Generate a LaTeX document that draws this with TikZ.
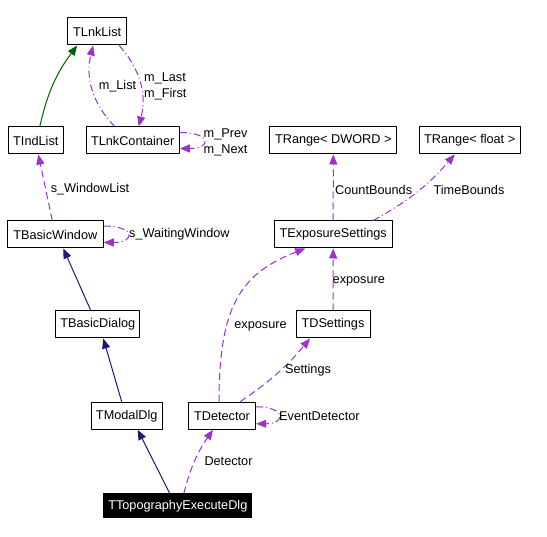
\documentclass[tikz,border=0pt]{standalone}
\usepackage{fontspec}
\setmainfont{Liberation Sans}
\usetikzlibrary{arrows.meta}
\definecolor{usecol}{RGB}{154,50,205}
\definecolor{inhcol}{RGB}{25,25,112}
\definecolor{pubcol}{RGB}{0,100,0}
\tikzset{
  cls/.style={draw,fill=white,line width=1pt,minimum height=27pt,inner sep=0pt,font=\fontsize{12.7}{15}\selectfont},
  lbl/.style={inner sep=0pt,font=\fontsize{12.7}{16}\selectfont,align=left},
  tip/.style={-{Triangle[length=10pt,width=8pt]}},
  usage/.style={tip,usecol,line width=1pt,dash pattern=on 7pt off 4pt},
  usagedot/.style={tip,usecol,line width=1pt,dash pattern=on 7pt off 3pt on 1pt off 3pt},
  inherit/.style={tip,inhcol,line width=1pt},
  pubinherit/.style={tip,pubcol,line width=1pt},
}
\begin{document}
\begin{tikzpicture}[x=1pt,y=-1pt,line join=round]
	\useasboundingbox (0,0) rectangle (547,537);
	% classes
	\foreach \n/\x/\y/\w/\t in {lnklist/97.2/31.5/59/TLnkList,indlist/35.8/140.5/55/TIndList,
		lnkcont/132.7/140.5/93.3/TLnkContainer,rdword/333.3/140.5/126.7/TRange< DWORD >,
		rfloat/469.7/140.5/100.7/TRange< float >,basicwin/55.3/234.5/96/TBasicWindow,
		expos/333.2/234.5/118.3/TExposureSettings,basicdlg/97.8/324.5/84.3/TBasicDialog,
		dsett/333/324.5/74/TDSettings,modal/126.7/415.8/71.3/TModalDlg,detect/222/415.8/67.4/TDetector}
	\node[cls,minimum width=\w pt] (\n) at (\x,\y) {\t};
	\node[cls,fill=black,text=white,minimum width=147.7pt,minimum height=24pt] (topo) at (177.8,506) {TTopographyExecuteDlg};
	% inheritance
	\draw[pubinherit] ([xshift=4pt]indlist.north) to[bend left=12] ([xshift=-20pt]lnklist.south);
	\draw[inherit] ([xshift=-7pt]basicdlg.north) -- ([xshift=8pt]basicwin.south);
	\draw[inherit] ([xshift=-5pt]modal.north) -- ([xshift=5.5pt]basicdlg.south);
	\draw[inherit] ([xshift=-8pt]topo.north) -- ([xshift=11pt]modal.south);
	% usage
	\draw[usagedot] ([xshift=-18pt]lnkcont.north) to[bend left=29] ([xshift=-4pt]lnklist.south);
	\node[lbl] (llist) at (117.5,86) {m\_List};
	\draw[usagedot] ([xshift=22pt]lnklist.south) to[bend left=28] ([xshift=6pt]lnkcont.north);
	\node[lbl,anchor=west] (llast) at (144,86) {m\_Last\\m\_First};
	\draw[usagedot] ([yshift=8pt]lnkcont.east) .. controls +(32,0) and +(32,0) .. ([yshift=-8pt]lnkcont.east);
	\node[lbl,anchor=west] (lprev) at (203.5,142) {m\_Prev\\m\_Next};
	\draw[usage] ([xshift=-3pt]basicwin.north) -- ([xshift=2.5pt]indlist.south);
	\node[lbl] (lwinlist) at (90,189) {s\_WindowList};
	\draw[usagedot] ([yshift=8.5pt]basicwin.east) .. controls +(32,0) and +(32,0) .. ([yshift=-8pt]basicwin.east);
	\node[lbl,anchor=west] (lwait) at (129,234.5) {s\_WaitingWindow};
	\draw[usage] ([xshift=6pt]topo.north) to[bend left=10] ([xshift=-9pt]detect.south);
	\node[lbl] (ldet) at (228.5,461.5) {Detector};
	\draw[usagedot] ([yshift=9pt]detect.east) .. controls +(30,0) and +(30,0) .. ([yshift=-8pt]detect.east);
	\node[lbl,anchor=west] (levent) at (279,416) {EventDetector};
	\draw[usage] ([xshift=-3pt]detect.north) .. controls +(0,-95) and +(-65,25) .. ([xshift=-28pt]expos.south);
	\node[lbl] (lexp) at (260.5,326) {exposure};
	\draw[usage] ([xshift=18pt]detect.north) to[bend right=8] ([xshift=-23pt]dsett.south);
	\node[lbl] (lsett) at (308,370) {Settings};
	\draw[usage] (dsett.north) -- (expos.south);
	\node[lbl,anchor=west] (lexpb) at (332.5,281.5) {exposure};
	\draw[usage] (expos.north) -- (rdword.south);
	\node[lbl,anchor=west] (lcount) at (335,190) {CountBounds};
	\draw[usagedot] ([xshift=40pt]expos.north) to[bend right=10] ([xshift=-15pt]rfloat.south);
	\node[lbl] (ltime) at (469,190) {TimeBounds};
\end{tikzpicture}
\end{document}
